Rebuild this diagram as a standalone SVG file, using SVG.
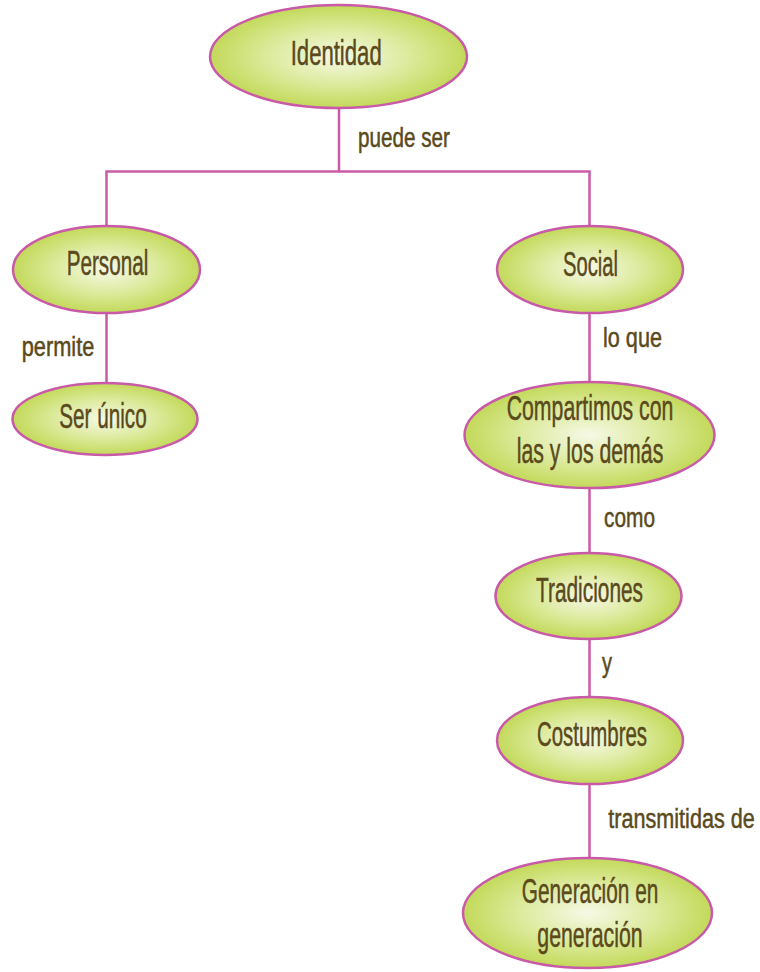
<svg xmlns="http://www.w3.org/2000/svg" width="760" height="972" viewBox="0 0 760 972">
<defs>
<radialGradient id="g" cx="0.5" cy="0.5" r="0.5">
<stop offset="0" stop-color="#f6f9e6"/>
<stop offset="0.55" stop-color="#dcea9c"/>
<stop offset="1" stop-color="#c3d95a"/>
</radialGradient>
</defs>
<style>
.n ellipse{fill:url(#g);stroke:#c85aa8;stroke-width:2.5}
.n text{font-family:"Liberation Sans",Arial,sans-serif;font-size:35px;fill:#5a4a1c;stroke:#5a4a1c;stroke-width:0.5;text-anchor:middle}
.l{font-family:"Liberation Sans",Arial,sans-serif;font-size:27px;fill:#5a4a1c;stroke:#5a4a1c;stroke-width:0.5}
.c{stroke:#c85aa8;stroke-width:2.5;fill:none}
</style>
<g id="connectors" class="c">
<path d="M339 108V171.5M106 171.5H590.5M106.5 170.3V226M589.5 170.3V226"/>
<path d="M106.5 313V383"/>
<path d="M589.5 313V382M589.5 488V553M589.5 639V697M589.5 784V858"/>
</g>
<g id="labels">
<text class="l" x="358" y="147" textLength="92" lengthAdjust="spacingAndGlyphs">puede ser</text>
<text class="l" x="21.7" y="356" textLength="72.6" lengthAdjust="spacingAndGlyphs">permite</text>
<text class="l" x="603" y="347" textLength="59" lengthAdjust="spacingAndGlyphs">lo que</text>
<text class="l" x="604" y="527" textLength="51" lengthAdjust="spacingAndGlyphs">como</text>
<text class="l" x="602" y="672" textLength="10" lengthAdjust="spacingAndGlyphs">y</text>
<text class="l" x="608.3" y="828" textLength="146.5" lengthAdjust="spacingAndGlyphs">transmitidas de</text>
</g>
<g id="identidad" class="n"><ellipse cx="338.5" cy="56.5" rx="128.5" ry="51.5"/><text x="336.2" y="65" textLength="91" lengthAdjust="spacingAndGlyphs">Identidad</text></g>
<g id="personal" class="n"><ellipse cx="106.5" cy="269.5" rx="93.5" ry="43.5"/><text x="107.5" y="275" textLength="81.6" lengthAdjust="spacingAndGlyphs">Personal</text></g>
<g id="ser-unico" class="n"><ellipse cx="105" cy="419" rx="92.5" ry="36"/><text x="103" y="428" textLength="87.4" lengthAdjust="spacingAndGlyphs">Ser único</text></g>
<g id="social" class="n"><ellipse cx="590" cy="269.5" rx="93" ry="43.5"/><text x="590.5" y="276" textLength="55" lengthAdjust="spacingAndGlyphs">Social</text></g>
<g id="compartimos" class="n"><ellipse cx="589.5" cy="435" rx="125" ry="53"/><text x="590" y="420" textLength="166.6" lengthAdjust="spacingAndGlyphs">Compartimos con</text><text x="590" y="463" textLength="146.6" lengthAdjust="spacingAndGlyphs">las y los demás</text></g>
<g id="tradiciones" class="n"><ellipse cx="588.5" cy="596" rx="93" ry="43"/><text x="589.5" y="602" textLength="107" lengthAdjust="spacingAndGlyphs">Tradiciones</text></g>
<g id="costumbres" class="n"><ellipse cx="590" cy="740.5" rx="93" ry="43.5"/><text x="592" y="746" textLength="110" lengthAdjust="spacingAndGlyphs">Costumbres</text></g>
<g id="generacion" class="n"><ellipse cx="587.5" cy="913" rx="124.5" ry="55"/><text x="590" y="903" textLength="136.6" lengthAdjust="spacingAndGlyphs">Generación en</text><text x="590" y="947" textLength="105.4" lengthAdjust="spacingAndGlyphs">generación</text></g>
</svg>
